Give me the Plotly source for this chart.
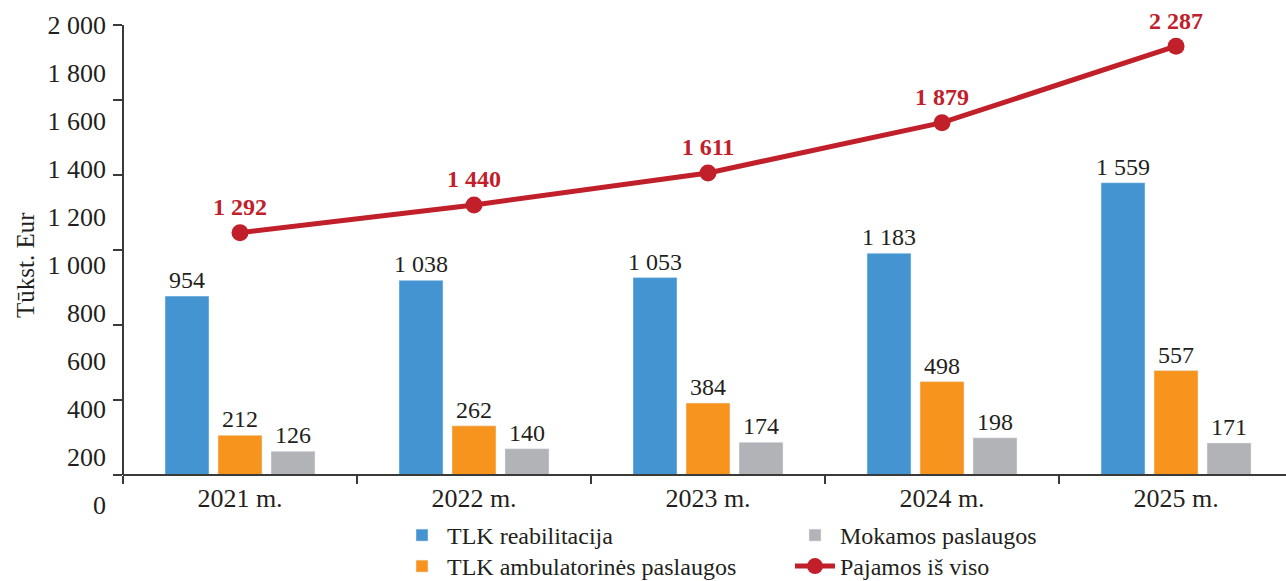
import plotly.graph_objects as go

years = ["2021 m.", "2022 m.", "2023 m.", "2024 m.", "2025 m."]
tlk_reabilitacija = [954, 1038, 1053, 1183, 1559]
tlk_ambulatorines = [212, 262, 384, 498, 557]
mokamos = [126, 140, 174, 198, 171]
pajamos_is_viso = [1292, 1440, 1611, 1879, 2287]
y_tick_labels = [0, 200, 400, 600, 800, 1000, 1200, 1400, 1600, 1800, 2000]
y_tick_marks = [0, 400, 800, 1200, 1600, 2000, 2400]

FONT = "Liberation Serif"
BLUE = "#4394D0"
ORANGE = "#F7941D"
GRAY = "#B1B3B6"
RED = "#C1202A"
TXT = "#231F20"
AX = "#3A3A3A"

bar_w = 0.188
fig = go.Figure()

def add_bar(name, vals, color, off, legend):
    fig.add_trace(go.Bar(
        x=years, y=vals, name=name, marker_color=color, width=bar_w, offset=off,
        texttemplate="%{y:,}", textposition="outside", cliponaxis=False,
        constraintext="none",
        textfont=dict(family=FONT, size=24, color=TXT), legend=legend,
    ))

add_bar("TLK reabilitacija", tlk_reabilitacija, BLUE, -0.3205, "legend")
add_bar("TLK ambulatorinės paslaugos", tlk_ambulatorines, ORANGE, -0.094, "legend3")
add_bar("Mokamos paslaugos", mokamos, GRAY, 0.1325, "legend2")

fig.add_trace(go.Scatter(
    x=years, y=pajamos_is_viso, name="Pajamos iš viso", mode="lines+markers+text",
    line=dict(color=RED, width=5), marker=dict(color=RED, size=17),
    texttemplate="<b>%{y:,}</b>", textposition="top center", cliponaxis=False,
    textfont=dict(family=FONT, size=24, color=RED), legend="legend4",
))

leg_common = dict(
    xanchor="left", yanchor="top", xref="container", yref="container",
    orientation="v", font=dict(family=FONT, size=24, color=TXT),
    bgcolor="rgba(0,0,0,0)", tracegroupgap=0, itemwidth=40,
)
row1, row2 = 1 - 513 / 581, 1 - 544 / 581
col1, col2 = 397 / 1286, 790 / 1286

# plot area: top 25px, bottom 510px (485 px tall); baseline (0) at 475px
fig.update_layout(
    width=1286, height=581,
    margin=dict(l=123, r=0, t=25, b=71, autoexpand=False),
    plot_bgcolor="white", paper_bgcolor="white",
    barmode="overlay",
    separators=". ",
    font=dict(family=FONT, size=24, color=TXT),
    xaxis=dict(
        type="category", range=[-0.5, 4.47], anchor="free", position=35 / 485,
        showline=True, linecolor=AX, linewidth=2, ticks="outside", tickson="boundaries",
        ticklen=8, tickcolor=AX, tickwidth=1.5, showgrid=False, automargin=False,
        tickfont=dict(family=FONT, size=26, color=TXT),
    ),
    yaxis=dict(
        range=[-186.67, 2400], tickmode="array", tickvals=y_tick_marks,
        ticks="outside", ticklen=9, tickcolor=AX, tickwidth=1.5, automargin=False,
        showticklabels=False, showgrid=False, zeroline=False, showline=False,
    ),
    yaxis2=dict(
        overlaying="y", side="left", range=[-20.83, 2000], tickmode="array",
        tickvals=y_tick_labels, tickformat=",d", ticks="", showgrid=False,
        zeroline=False, showline=False, ticklabelstandoff=16, automargin=False,
        tickfont=dict(family=FONT, size=26, color=TXT),
    ),
    legend=dict(x=col1, y=row1, **leg_common),
    legend2=dict(x=col2, y=row1, **leg_common),
    legend3=dict(x=col1, y=row2, **leg_common),
    legend4=dict(x=col2, y=row2, **leg_common),
    shapes=[dict(type="line", xref="paper", yref="y", x0=0, x1=0, y0=0, y1=2400,
                 line=dict(color=AX, width=2))],
    annotations=[dict(text="Tūkst. Eur", textangle=-90, xref="paper", yref="paper",
                      x=(25 - 123) / 1163, y=(510 - 265) / 485, xanchor="center",
                      yanchor="middle", showarrow=False,
                      font=dict(family=FONT, size=25, color=TXT))],
)
# invisible anchor trace for the label axis
fig.add_trace(go.Scatter(x=[years[0]], y=[0], yaxis="y2", mode="markers",
                         marker=dict(opacity=0), showlegend=False, hoverinfo="skip"))

fig.write_html("out.html", config={"displayModeBar": False},
               post_script="document.body.style.margin='0px';document.body.style.overflow='hidden';")
